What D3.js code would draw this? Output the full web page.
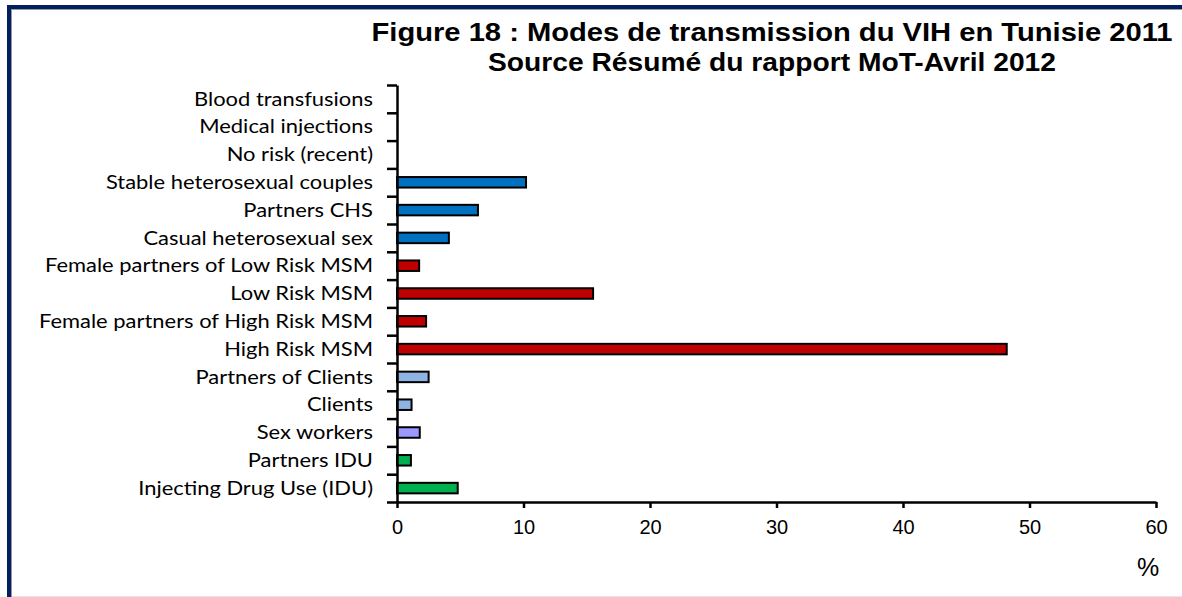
<!DOCTYPE html>
<html><head><meta charset="utf-8">
<script src="https://cdn.jsdelivr.net/npm/d3@7"></script>
<style>
html,body{margin:0;padding:0;background:#fff;}
svg{display:block;}
</style></head>
<body>
<script>
const categories = [
  "Blood transfusions","Medical injections","No risk (recent)","Stable heterosexual couples",
  "Partners CHS","Casual heterosexual sex","Female partners of Low Risk MSM","Low Risk MSM",
  "Female partners of High Risk MSM","High Risk MSM","Partners of Clients","Clients",
  "Sex workers","Partners IDU","Injecting Drug Use (IDU)"
];
const values = [0, 0.05, 0, 10.2, 6.4, 4.1, 1.75, 15.5, 2.3, 48.2, 2.5, 1.15, 1.8, 1.1, 4.8];
const colors = ["#0070C0","#0070C0","#0070C0","#0070C0","#0070C0","#0070C0",
  "#C00000","#C00000","#C00000","#C00000","#8DB4E2","#8DB4E2","#9999FF","#00B050","#00B050"];
const xTicks = [0,10,20,30,40,50,60];
const titleLines = ["Figure 18 : Modes de transmission du VIH en Tunisie 2011","Source Résumé du rapport MoT-Avril 2012"];
const xLabel = "%";

const W = 1182, H = 597;
const svg = d3.select("body").append("svg").attr("width", W).attr("height", H);

// frame
svg.append("rect").attr("x",0).attr("y",0).attr("width",W).attr("height",H).attr("fill","#fff");
svg.append("rect").attr("x",7).attr("y",5).attr("width",W-7).attr("height",4).attr("fill","#002060");
svg.append("rect").attr("x",7).attr("y",5).attr("width",4).attr("height",H-5).attr("fill","#002060");
svg.append("rect").attr("x",11).attr("y",9).attr("width",W-11).attr("height",1).attr("fill","#999");
svg.append("rect").attr("x",11).attr("y",9).attr("width",1).attr("height",H-9).attr("fill","#999");
svg.append("rect").attr("x",12).attr("y",596).attr("width",W-12).attr("height",1).attr("fill","#e6e6e6");

// title
const tl = [801, 568];
titleLines.forEach((t,i)=>{
  svg.append("text").attr("x",772).attr("y",41+i*30).attr("text-anchor","middle")
    .attr("font-family","Liberation Sans, Arial, sans-serif").attr("font-weight","bold")
    .attr("font-size",25).attr("textLength",tl[i]).attr("lengthAdjust","spacingAndGlyphs")
    .attr("fill","#000").text(t);
});

const x = d3.scaleLinear().domain([0,60]).range([397,1156]);
const y = d3.scaleBand().domain(categories).range([85,502]).padding(0);
const x0 = x(0), yTop = y.range()[0], yBot = y.range()[1];

// bars
const bh = 10.5;
svg.append("g").selectAll("rect").data(categories).join("rect")
  .attr("x", x0)
  .attr("y", (d)=> y(d) + y.bandwidth()/2 - bh/2)
  .attr("width", (d,i)=> x(values[i]) - x0)
  .attr("height", bh)
  .attr("fill", (d,i)=> colors[i])
  .attr("stroke", (d,i)=> values[i] > 0.2 ? "#000" : "#bbb")
  .attr("stroke-width", (d,i)=> values[i] > 0.2 ? 2 : 1)
  .attr("display", (d,i)=> values[i] > 0 ? null : "none");

// y axis line + boundary ticks via a linear index scale
const yIdx = d3.scaleLinear().domain([0, categories.length]).range([yTop, yBot]);
const yb = svg.append("g").attr("transform",`translate(${x0},0)`)
  .call(d3.axisLeft(yIdx).tickValues(d3.range(categories.length+1)).tickFormat("").tickSize(10).tickSizeOuter(0));
yb.select(".domain").attr("stroke","#000").attr("stroke-width",2.5);
yb.selectAll(".tick line").attr("stroke","#000").attr("stroke-width",2.5);

// y axis labels
const ya = svg.append("g").attr("transform",`translate(${x0},0)`)
  .call(d3.axisLeft(y).tickSize(0).tickPadding(24));
ya.select(".domain").remove();
ya.selectAll("text").attr("font-family","Lato, 'Open Sans', sans-serif").attr("font-size",18.5)
  .attr("fill","#000").attr("dy","0.36em")
  .each(function(){
    const L = this.getComputedTextLength();
    d3.select(this).attr("textLength", L*1.185).attr("lengthAdjust","spacingAndGlyphs");
  });

// x axis
const xa = svg.append("g").attr("transform",`translate(0,${yBot})`)
  .call(d3.axisBottom(x).tickValues(xTicks).tickSize(6).tickSizeOuter(0).tickPadding(12));
xa.select(".domain").attr("stroke","#000").attr("stroke-width",2.5);
xa.selectAll(".tick line").attr("stroke","#000").attr("stroke-width",2.5);
xa.selectAll("text").attr("font-family","Liberation Sans, Arial, sans-serif").attr("font-size",20).attr("fill","#000");

svg.append("text").attr("x",1148).attr("y",576).attr("text-anchor","middle")
  .attr("font-family","Liberation Sans, Arial, sans-serif").attr("font-size",25).attr("fill","#000").text(xLabel);
</script>
</body></html>
